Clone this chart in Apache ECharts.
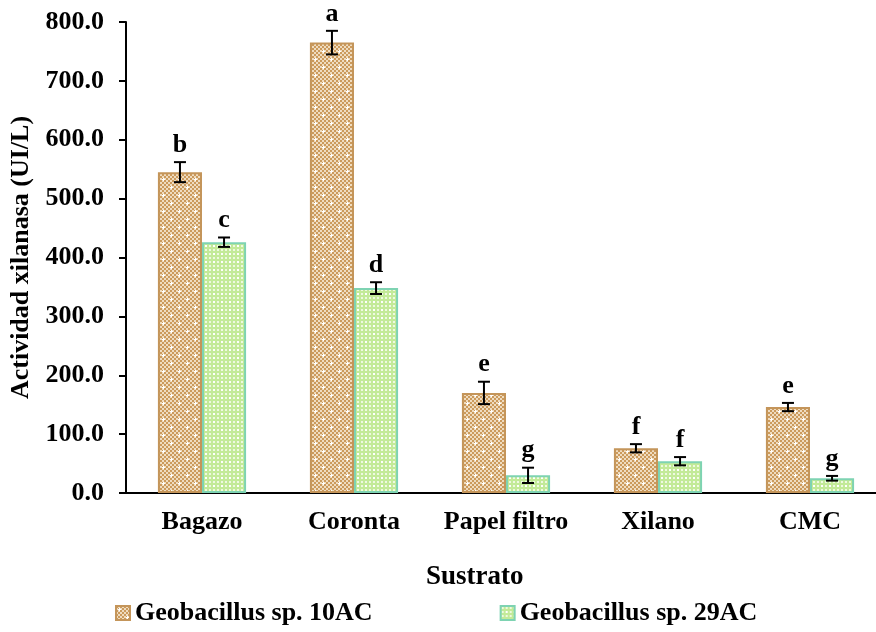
<!DOCTYPE html>
<html><head><meta charset="utf-8">
<script src="https://cdn.jsdelivr.net/npm/echarts@6/dist/echarts.min.js"></script>
<style>html,body{margin:0;padding:0;background:#fff}#c{width:876px;height:632px}</style>
</head><body><div id="c"></div>
<script>
const categories = ['Bagazo', 'Coronta', 'Papel filtro', 'Xilano', 'CMC'];
const seriesNames = ['Geobacillus sp. 10AC', 'Geobacillus sp. 29AC'];
const values10AC = [545, 765, 170, 76, 146];
const values29AC = [426, 348, 30, 54, 25];
const err10AC = [17, 20, 19, 7, 7];
const err29AC = [8, 10, 13, 7, 4];
const letters10AC = ['b', 'a', 'e', 'f', 'e'];
const letters29AC = ['c', 'd', 'g', 'f', 'g'];
const yTicks = [0, 100, 200, 300, 400, 500, 600, 700, 800];

const FONT = '"Liberation Serif", "Times New Roman", serif';

function makeBrown() {
  const c = document.createElement('canvas'); c.width = 16; c.height = 16;
  const g = c.getContext('2d');
  for (let y = 0; y < 16; y += 2) for (let x = 0; x < 16; x += 2) {
    g.fillStyle = ((x + y) / 2) % 2 === 0 ? '#CB9A5C' : '#EFDCC0';
    g.fillRect(x, y, 2, 2);
  }
  g.fillStyle = '#ffffff';
  [[3, 3], [11, 11]].forEach(([x, y]) => {
    g.fillRect(x, y - 1, 1, 3); g.fillRect(x - 1, y, 3, 1);
  });
  return c;
}
function makeGreen() {
  const c = document.createElement('canvas'); c.width = 8; c.height = 8;
  const g = c.getContext('2d');
  g.fillStyle = '#C3EA98'; g.fillRect(0, 0, 8, 8);
  g.fillStyle = '#EEF9E0';
  for (let y = 0; y < 8; y += 4) for (let x = 0; x < 8; x += 4) g.fillRect(x + 1, y + 1, 2, 2);
  g.fillStyle = '#ffffff';
  g.fillRect(5, 5, 2, 2);
  return c;
}
const brownPattern = { image: makeBrown(), repeat: 'repeat' };
const greenPattern = { image: makeGreen(), repeat: 'repeat' };

const BAR_FRAC = 0.29;
function errRender(offsetSign, letters) {
  return function (params, api) {
    const idx = api.value(0), val = api.value(1), err = api.value(2);
    const band = api.size([1, 0])[0];
    const c = api.coord([idx, val]);
    const x = c[0] + offsetSign * band * BAR_FRAC / 2;
    const top = api.coord([idx, val + err])[1];
    const bot = api.coord([idx, val - err])[1];
    const cap = 6;
    const st = { stroke: '#000', lineWidth: 2 };
    return {
      type: 'group',
      children: [
        { type: 'line', shape: { x1: x, y1: top, x2: x, y2: bot }, style: st },
        { type: 'line', shape: { x1: x - cap, y1: top, x2: x + cap, y2: top }, style: st },
        { type: 'line', shape: { x1: x - cap, y1: bot, x2: x + cap, y2: bot }, style: st },
        { type: 'text', x: x, y: top - 4, style: { text: letters[params.dataIndex], fill: '#000', font: 'bold 26px ' + FONT, align: 'center', verticalAlign: 'bottom' } }
      ]
    };
  };
}

const chart = echarts.init(document.getElementById('c'), null, { renderer: 'canvas' });
chart.setOption({
  animation: false,
  backgroundColor: '#fff',
  grid: { left: 126, right: -10, top: 22, bottom: 139, containLabel: false, outerBoundsMode: 'none' },
  legend: {
    left: 110, top: 595, itemGap: 127, itemWidth: 14, itemHeight: 14,
    icon: 'rect',
    textStyle: { fontFamily: FONT, fontWeight: 'bold', fontSize: 26, color: '#000' },
    data: seriesNames
  },
  graphic: [{
    type: 'text', left: 426, top: 564,
    style: { text: 'Sustrato', font: 'bold 27px ' + FONT, fill: '#000' }
  }],
  xAxis: {
    type: 'category', data: categories,
    axisLine: { lineStyle: { color: '#000', width: 2 } },
    axisTick: { alignWithLabel: true, length: 7, lineStyle: { color: '#000', width: 2 } },
    axisLabel: { interval: 0, margin: 16, color: '#000', fontFamily: FONT, fontWeight: 'bold', fontSize: 26 }
  },
  yAxis: {
    type: 'value', min: 0, max: 800, interval: 100,
    name: 'Actividad xilanasa (UI/L)', nameLocation: 'middle', nameGap: 92, nameRotate: 90,
    nameTextStyle: { color: '#000', fontFamily: FONT, fontWeight: 'bold', fontSize: 26 },
    axisLine: { show: true, lineStyle: { color: '#000', width: 2 } },
    axisTick: { show: true, length: 7, lineStyle: { color: '#000', width: 2 } },
    splitLine: { show: false },
    axisLabel: { margin: 22, color: '#000', fontFamily: FONT, fontWeight: 'bold', fontSize: 26, formatter: v => yTicks.includes(v) ? v.toFixed(1) : '' }
  },
  series: [
    { name: seriesNames[0], type: 'bar', data: values10AC, barWidth: (BAR_FRAC * 100) + '%', barGap: '0%',
      itemStyle: { color: brownPattern, borderColor: '#C4955A', borderWidth: 2 } },
    { name: seriesNames[1], type: 'bar', data: values29AC, barWidth: (BAR_FRAC * 100) + '%', barGap: '0%',
      itemStyle: { color: greenPattern, borderColor: '#7ED3B2', borderWidth: 2 } },
    { type: 'custom', renderItem: errRender(-1, letters10AC), encode: { x: 0, y: 1 }, z: 5,
      data: values10AC.map((v, i) => [i, v, err10AC[i]]) },
    { type: 'custom', renderItem: errRender(1, letters29AC), encode: { x: 0, y: 1 }, z: 5,
      data: values29AC.map((v, i) => [i, v, err29AC[i]]) }
  ]
});
</script></body></html>
